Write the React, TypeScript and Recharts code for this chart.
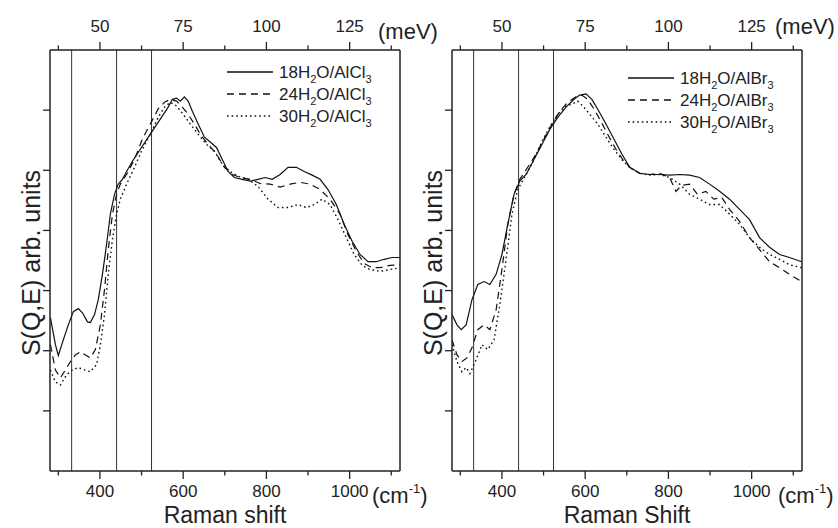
import React from 'react';
import { LineChart, Line, XAxis, YAxis, ReferenceLine } from 'recharts';

// ---------- axis tick values ----------
const cmTicks = [300, 400, 500, 600, 700, 800, 900, 1000, 1100];
const cmLabelTicks = [400, 600, 800, 1000];
const meVTicks = [37.5, 50, 62.5, 75, 87.5, 100, 112.5, 125, 137.5];
const meVLabelTicks = [50, 75, 100, 125];
const yTicks = [10, 20, 30, 40, 50, 60];
const cmDomain: [number, number] = [280, 1121];
const meVDomain: [number, number] = [35, 140.125]; // top axis drawn at 8 cm-1 per meV
const yDomain: [number, number] = [0, 70];
const markerLines = [332, 440, 524];

// ---------- series: [Raman shift (cm-1), S(Q,E) arb. units] ----------
const cl18: [number, number][] = [[281,25.5],[293,21],[300,19.2],[312,21.8],[324,24.3],[336,26.5],[348,27],[358,26.3],[370,24.8],[377,24.7],[387,26],[396,28.5],[406,32.7],[416,37.7],[425,42.7],[435,46],[444,47.7],[454,48.5],[464,49.8],[478,51.5],[497,53.5],[521,56],[545,58.5],[564,60.5],[574,61.8],[584,62],[593,61.5],[603,62.2],[612,61.5],[622,59.8],[636,57.7],[651,55.5],[665,54.7],[680,53.8],[694,51.8],[708,49.8],[723,48.8],[742,48.5],[761,48.2],[780,48.5],[797,48.8],[814,48.5],[833,49.3],[852,50.5],[872,50.5],[891,49.8],[910,49.2],[929,48.5],[948,46.8],[968,44.3],[987,41],[1006,38.2],[1025,36],[1044,34.8],[1064,34.8],[1083,35.2],[1102,35.5],[1121,35.5]];
const cl24: [number, number][] = [[281,21],[293,16.8],[305,15.5],[317,16.8],[329,18.2],[341,19.3],[353,19.8],[365,19.3],[377,18.8],[389,20.2],[401,24.3],[411,30.2],[420,36.8],[430,42.7],[440,46],[449,47.7],[464,49.3],[483,51.8],[502,55.2],[521,57.7],[540,60.2],[555,61.3],[569,61.8],[584,61.5],[598,60.5],[612,59.3],[627,57.7],[641,56],[660,54.3],[680,52.7],[699,50.5],[718,49.3],[737,48.8],[761,48.5],[785,47.8],[809,47.7],[833,47.2],[857,47.7],[881,48],[905,47.7],[929,46.8],[953,45.2],[977,42.7],[996,39.3],[1016,36.5],[1035,34.5],[1054,33.8],[1073,33.8],[1097,34.2],[1121,34.3]];
const cl30: [number, number][] = [[281,16.8],[293,14.8],[305,14.3],[320,16],[334,16.8],[348,17.2],[363,16.8],[377,16.5],[392,17.7],[401,21],[411,26],[420,32.7],[430,38.5],[440,42.7],[449,45.2],[464,47.7],[483,50.5],[502,53.5],[521,56],[540,58.8],[555,60.5],[569,61.3],[584,60.7],[598,59.5],[617,57.7],[636,56],[656,54.3],[675,53.2],[694,51],[713,49.8],[732,49],[756,48.5],[780,47.3],[804,45.2],[828,43.8],[852,43.8],[876,44.3],[896,43.8],[915,44.3],[934,45.2],[953,44.3],[972,41.8],[992,38.8],[1011,36],[1030,34.2],[1049,33.5],[1073,33.2],[1097,33.5],[1121,33.8]];
const br18: [number, number][] = [[280,26],[292,24.3],[302,23.5],[314,24.3],[328,28.5],[342,31],[357,31.5],[371,31],[386,32.7],[400,36],[414,41],[429,46],[443,48.2],[458,49.3],[477,51.8],[496,54.3],[515,56.8],[534,58.8],[554,60.5],[573,61.8],[587,62.5],[602,62.7],[616,61.8],[630,60.2],[650,57.7],[669,55.2],[688,52.7],[707,50.5],[731,49.5],[755,49.3],[779,49.3],[803,49.2],[827,49.3],[851,49.2],[875,48.8],[899,47.7],[923,46.5],[947,45.2],[971,43.5],[995,41.8],[1019,38.8],[1043,37.2],[1067,36],[1091,35.5],[1120,34.8]];
const br24: [number, number][] = [[280,21.8],[292,19.3],[304,18.2],[316,18.8],[328,20.5],[342,23.5],[357,24.3],[371,23.5],[386,26.8],[400,33.5],[414,41],[429,46],[443,48.5],[462,50.5],[482,52.7],[501,55.2],[520,57.7],[539,59.8],[558,61.3],[578,62.2],[592,62.5],[606,61.8],[621,60.2],[635,58.5],[654,56],[674,53.5],[693,51.5],[712,50.2],[731,49.5],[755,49.3],[779,49.5],[803,48.8],[818,46.5],[832,47.5],[851,47.7],[870,46],[890,46.5],[909,45.2],[928,45.5],[947,43.5],[971,41.5],[995,38.8],[1019,36.8],[1043,34.8],[1067,33.8],[1091,32.7],[1120,31.5]];
const br30: [number, number][] = [[280,21],[292,18.2],[304,16.5],[314,17.2],[323,16.2],[338,18.5],[352,21],[366,20.2],[381,21.8],[395,27.7],[410,35.2],[424,42.7],[438,46.8],[458,49.3],[477,51.8],[496,54.8],[515,57.2],[534,59.3],[554,60.7],[568,61],[582,61.5],[597,60.5],[611,59.3],[630,57.7],[650,55.5],[669,53.5],[688,51.8],[707,50.5],[731,49.5],[755,49.2],[779,49.3],[803,48.8],[827,47.7],[851,46],[875,45.2],[899,44.3],[923,44.3],[947,42.7],[971,41],[995,38.8],[1019,37.2],[1043,36],[1067,35.2],[1091,34.3],[1120,33.8]];

const leftNames = ['18', '24', '30'];
const leftSalt = ['AlCl', '3'];
const rightSalt = ['AlBr', '3'];

const FONT = '"Liberation Sans", Arial, Helvetica, sans-serif';
const AX = '#222';
const TXT = '#222';
const DASHES = ['', '7 5', '1.6 3'];

const toRows = (a: [number, number][]) => a.map(([x, y]) => ({ x, y }));
// empty anchor rows so that the top meV axis and the right frame axis are registered (no marks drawn)
const topAnchor = meVTicks.map((m) => ({ m, y: null as number | null }));

const BottomTick = (props: any) => {
  const { x, y, payload } = props;
  const major = cmLabelTicks.includes(payload.value);
  return (
    <g>
      <line x1={x} x2={x} y1={y} y2={y + (major ? 8 : 4.5)} stroke={AX} strokeWidth={1.3} />
      {major && (
        <text x={x} y={y + 26} textAnchor="middle" fontSize={17} fill={TXT} fontFamily={FONT}>
          {payload.value}
        </text>
      )}
    </g>
  );
};

const TopTick = (props: any) => {
  const { x, y, payload } = props;
  const major = meVLabelTicks.includes(payload.value);
  return (
    <g>
      <line x1={x} x2={x} y1={y} y2={y - (major ? 8 : 4.5)} stroke={AX} strokeWidth={1.3} />
      {major && (
        <text x={x} y={y - 18} textAnchor="middle" fontSize={17} fill={TXT} fontFamily={FONT}>
          {payload.value}
        </text>
      )}
    </g>
  );
};

const LeftTick = (props: any) => {
  const { x, y } = props;
  return <line x1={x} x2={x - 7} y1={y} y2={y} stroke={AX} strokeWidth={1.3} />;
};

const NoTick = () => <g />;

type PanelProps = {
  left: number;
  series: [number, number][][];
};

const Panel = ({ left, series }: PanelProps) => (
  <div style={{ position: 'absolute', left, top: 0 }}>
    <LineChart width={430} height={528} margin={{ top: 49, right: 29, bottom: 56, left: 49 }}>
      <XAxis
        xAxisId="bottom"
        dataKey="x"
        type="number"
        domain={cmDomain}
        ticks={cmTicks}
        interval={0}
        allowDataOverflow
        height={1}
        tickSize={0}
        tickMargin={0}
        tickLine={false}
        tick={BottomTick}
        axisLine={{ stroke: AX, strokeWidth: 1.5 }}
      />
      <XAxis
        xAxisId="top"
        dataKey="m"
        orientation="top"
        type="number"
        domain={meVDomain}
        ticks={meVTicks}
        interval={0}
        allowDataOverflow
        height={1}
        tickSize={0}
        tickMargin={0}
        tickLine={false}
        tick={TopTick}
        axisLine={{ stroke: AX, strokeWidth: 1.5 }}
      />
      <YAxis
        yAxisId="left"
        type="number"
        domain={yDomain}
        ticks={yTicks}
        interval={0}
        allowDataOverflow
        width={1}
        tickSize={0}
        tickMargin={0}
        tickLine={false}
        tick={LeftTick}
        axisLine={{ stroke: AX, strokeWidth: 1.5 }}
      />
      <YAxis
        yAxisId="right"
        orientation="right"
        type="number"
        domain={yDomain}
        ticks={yTicks}
        interval={0}
        allowDataOverflow
        width={1}
        tickSize={0}
        tickMargin={0}
        tickLine={false}
        tick={NoTick}
        axisLine={{ stroke: AX, strokeWidth: 1.5 }}
      />
      {markerLines.map((m) => (
        <ReferenceLine key={m} x={m} xAxisId="bottom" yAxisId="left" stroke="#333" strokeWidth={1} />
      ))}
      <Line
        data={topAnchor}
        dataKey="y"
        xAxisId="top"
        yAxisId="right"
        stroke="none"
        dot={false}
        activeDot={false}
        legendType="none"
        isAnimationActive={false}
      />
      {series.map((s, i) => (
        <Line
          key={i}
          data={toRows(s)}
          dataKey="y"
          xAxisId="bottom"
          yAxisId="left"
          type="linear"
          stroke="#111"
          strokeWidth={i === 2 ? 1.4 : 1.2}
          strokeDasharray={DASHES[i] || undefined}
          dot={false}
          activeDot={false}
          isAnimationActive={false}
        />
      ))}
    </LineChart>
  </div>
);

const LegendBox = ({ x, y, salt }: { x: number; y: number; salt: string[] }) => (
  <g fontFamily={FONT} fill={TXT}>
    {leftNames.map((n, i) => {
      const ry = y + i * 22;
      return (
        <g key={n}>
          <line x1={x} x2={x + 46} y1={ry} y2={ry} stroke="#111" strokeWidth={1.3} strokeDasharray={DASHES[i] || undefined} />
          <text x={x + 52} y={ry + 6} fontSize={17}>
            {n}H<tspan fontSize={11} dy={5}>2</tspan>
            <tspan dy={-5}>O/{salt[0]}</tspan>
            <tspan fontSize={11} dy={5}>{salt[1]}</tspan>
          </text>
        </g>
      );
    })}
  </g>
);

export default function App() {
  return (
    <div style={{ position: 'absolute', left: 0, top: 0, width: 838, height: 528, background: '#fff', overflow: 'hidden' }}>
      <Panel left={-0.5} series={[cl18, cl24, cl30]} />
      <Panel left={402} series={[br18, br24, br30]} />
      <svg width={838} height={528} style={{ position: 'absolute', left: 0, top: 0, pointerEvents: 'none' }}>
        <g fontFamily={FONT} fill={TXT} fontSize={22}>
          <text x={378} y={39}>(meV)</text>
          <text x={775} y={34}>(meV)</text>
          <text x={372} y={503}>(cm<tspan fontSize={13} dy={-10}>-1</tspan><tspan dy={10}>)</tspan></text>
          <text x={778} y={503}>(cm<tspan fontSize={13} dy={-10}>-1</tspan><tspan dy={10}>)</tspan></text>
          <text x={225} y={523} textAnchor="middle" fontSize={23}>Raman shift</text>
          <text x={627} y={523} textAnchor="middle" fontSize={23}>Raman Shift</text>
          <text x={40} y={263} textAnchor="middle" fontSize={25} transform="rotate(-90 40 263)">S(Q,E) arb. units</text>
          <text x={442} y={263} textAnchor="middle" fontSize={25} transform="rotate(-90 442 263)">S(Q,E) arb. units</text>
        </g>
        <LegendBox x={227} y={72} salt={leftSalt} />
        <LegendBox x={628} y={78} salt={rightSalt} />
      </svg>
    </div>
  );
}
